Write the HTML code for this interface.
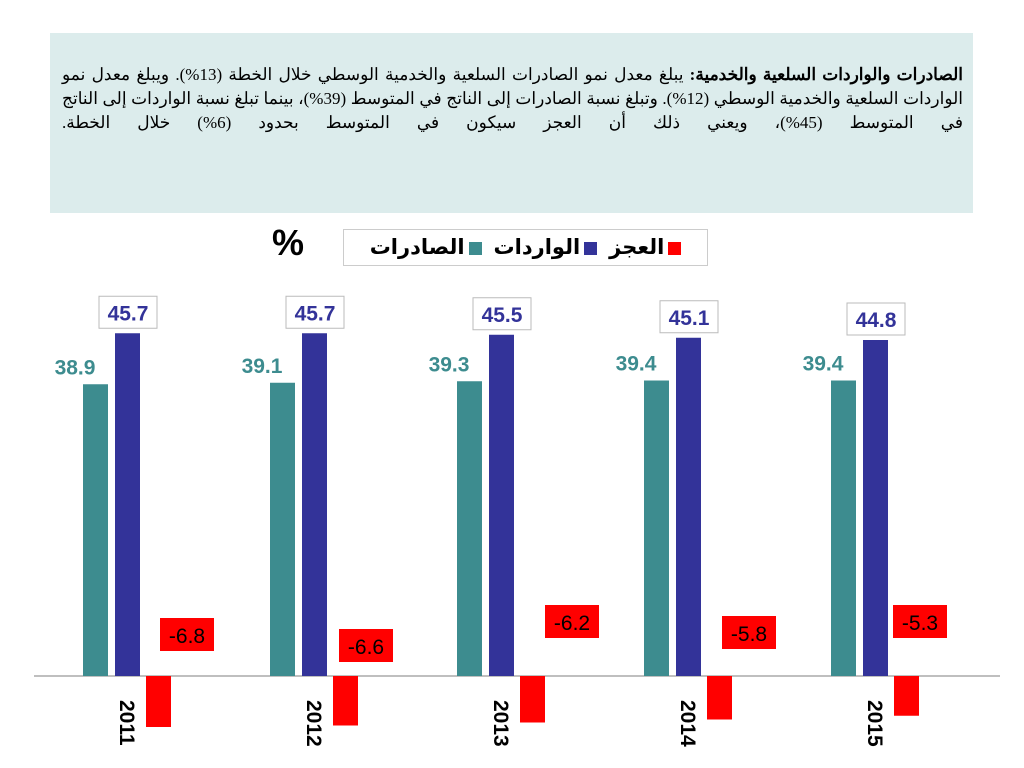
<!DOCTYPE html>
<html><head><meta charset="utf-8"><style>
body{margin:0;width:1024px;height:768px;background:#fff;overflow:hidden;position:relative;font-family:"Liberation Sans",sans-serif}
#note{position:absolute;left:50px;top:33px;width:923px;height:180px;background:#dcecec}
#note p{position:absolute;left:12px;right:10px;top:30px;margin:0;direction:rtl;text-align:justify;text-align-last:justify;font-family:"Liberation Serif","DejaVu Serif",serif;font-size:17px;line-height:24px;color:#000}
#legend{position:absolute;left:343px;top:229px;width:363px;height:35px;border:1px solid #ccc;background:#fff;direction:rtl;display:flex;align-items:center;justify-content:center;gap:12px;font-weight:bold;font-size:21px;font-family:"Liberation Sans","DejaVu Sans",sans-serif}
.sw{display:inline-block;width:13px;height:13px;margin-left:4px;vertical-align:middle}
#pct{position:absolute;left:272px;top:222px;font-size:36px;font-weight:bold}
</style></head><body>
<div id="note"><p><b>الصادرات والواردات السلعية والخدمية:</b> يبلغ معدل نمو الصادرات السلعية والخدمية الوسطي خلال الخطة (13%). ويبلغ معدل نمو الواردات السلعية والخدمية الوسطي (12%). وتبلغ نسبة الصادرات إلى الناتج في المتوسط (39%)، بينما تبلغ نسبة الواردات إلى الناتج في المتوسط (45%)، ويعني ذلك أن العجز سيكون في المتوسط بحدود (6%) خلال الخطة.</p></div>
<div id="pct">%</div>
<div id="legend">
<span><span class="sw" style="background:#ff0000"></span>العجز</span>
<span><span class="sw" style="background:#333399"></span>الواردات</span>
<span><span class="sw" style="background:#3d8c8f"></span>الصادرات</span>
</div>
<svg id="chart" width="1024" height="768" style="position:absolute;left:0;top:0"></svg>
<script>
const years=["2011","2012","2013","2014","2015"];
const exportsV=[38.9,39.1,39.3,39.4,39.4];
const importsV=[45.7,45.7,45.5,45.1,44.8];
const deficitV=[-6.8,-6.6,-6.2,-5.8,-5.3];
const NS="http://www.w3.org/2000/svg";
const svg=document.getElementById('chart');
const base=676, k=7.5;
const y=v=>base-v*k;
const gx=i=>83+i*187;
const redLab=[[160,618],[339,629],[545,605],[722,616],[893,605]];
function mk(t,a){const e=document.createElementNS(NS,t);for(const n in a)e.setAttribute(n,a[n]);svg.appendChild(e);return e;}
const ax=mk('line',{x1:34,x2:1000,y1:base,y2:base,stroke:'#aaa','stroke-width':1.5});


years.forEach((yr,i)=>{
  const x=gx(i);
  const b1=mk('rect',{x:x,y:y(exportsV[i]),width:25,height:base-y(exportsV[i]),fill:'#3d8c8f'});
  
  
  const b2=mk('rect',{x:x+32,y:y(importsV[i]),width:25,height:base-y(importsV[i]),fill:'#333399'});
  
  
  const b3=mk('rect',{x:x+63,y:base,width:25,height:y(deficitV[i])-base,fill:'#ff0000'});
  
  
  const t1=mk('text',{x:x-8,y:y(exportsV[i])-10,'text-anchor':'middle','font-size':21,'font-weight':'bold',fill:'#3d8c8f','font-family':'Liberation Sans'});
  t1.textContent=exportsV[i].toFixed(1);
  
  
  const bx=mk('rect',{x:x+16,y:y(importsV[i])-37,width:58,height:32,fill:'#fff',stroke:'#bbb'});
  
  
  const t2=mk('text',{x:x+45,y:y(importsV[i])-13,'text-anchor':'middle','font-size':21,'font-weight':'bold',fill:'#333399','font-family':'Liberation Sans'});
  t2.textContent=importsV[i].toFixed(1);
  
  
  const [rx,ry]=redLab[i];
  const rb=mk('rect',{x:rx,y:ry,width:54,height:33,fill:'#ff0000'});
  
  
  const t3=mk('text',{x:rx+27,y:ry+25,'text-anchor':'middle','font-size':21,fill:'#000','font-family':'Liberation Sans'});
  t3.textContent=deficitV[i].toFixed(1);
  
  
  const ty=mk('text',{x:0,y:0,'font-size':21,'font-weight':'bold',fill:'#000','font-family':'Liberation Sans',transform:`translate(${x+37},${700}) rotate(90)`});
  ty.textContent=yr;
  
  
});
</script>
</body></html>
